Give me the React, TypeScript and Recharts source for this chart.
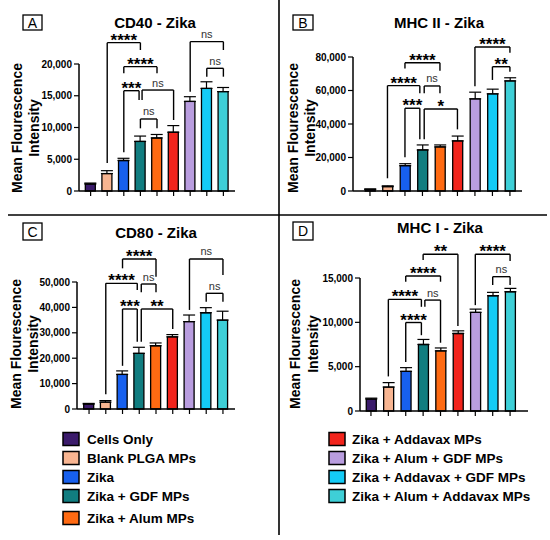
import React from 'react';
import { BarChart, Bar, XAxis, YAxis, Cell, ErrorBar, ReferenceLine } from 'recharts';

const categories = [
  'Cells Only',
  'Blank PLGA MPs',
  'Zika',
  'Zika + GDF MPs',
  'Zika + Alum MPs',
  'Zika + Addavax MPs',
  'Zika + Alum + GDF MPs',
  'Zika + Addavax + GDF MPs',
  'Zika + Alum + Addavax MPs',
];
const colors = ['#3b1b6b', '#f8b591', '#1760ee', '#117d80', '#ff6a12', '#f2241c', '#b99ddf', '#14cbf6', '#3ecfd7'];

const cd40Values = [1100, 2750, 4800, 7800, 8350, 9250, 14100, 16150, 15650];
const cd40Errors = [150, 450, 350, 850, 550, 1050, 750, 1050, 650];
const cd40Ticks = [0, 5000, 10000, 15000, 20000];
// [from, to, top, left leg end, right leg end, label]
const cd40Brackets: [number, number, number, number, number, string][] = [
  [1, 3, 23360, 4400, 22200, '****'],
  [2, 4, 19580, 18530, 18530, '****'],
  [2, 2.92, 15800, 6100, 14330, '***'],
  [3.1, 5, 15900, 14330, 11180, 'ns'],
  [3, 4, 11340, 9870, 9870, 'ns'],
  [6, 8, 23520, 15640, 22200, 'ns'],
  [7, 8, 19320, 18000, 18000, 'ns'],
];

const mhc2Values = [1000, 2600, 15100, 24500, 26300, 29900, 55000, 58000, 65700];
const mhc2Errors = [200, 500, 1200, 3000, 1200, 2900, 4000, 2800, 1900];
const mhc2Ticks = [0, 20000, 40000, 60000, 80000];
const mhc2Brackets: [number, number, number, number, number, string][] = [
  [2, 4, 76600, 73200, 71800, '****'],
  [1, 2.85, 62900, 7600, 58300, '****'],
  [3.1, 4, 62700, 58300, 58300, 'ns'],
  [2, 2.85, 49400, 20100, 30900, '***'],
  [3.1, 5, 49000, 30900, 36800, '*'],
  [6, 8, 86000, 62500, 82600, '****'],
  [7, 8, 74200, 66300, 71200, '**'],
];

const cd80Values = [1900, 2700, 13600, 21900, 24900, 28400, 34400, 37900, 35000];
const cd80Errors = [300, 600, 1400, 2400, 1100, 900, 2600, 2000, 3500];
const cd80Ticks = [0, 10000, 20000, 30000, 40000, 50000];
const cd80Brackets: [number, number, number, number, number, string][] = [
  [2, 4, 59060, 55380, 52100, '****'],
  [1, 2.88, 49470, 5800, 46850, '****'],
  [3.12, 4, 49210, 45930, 45930, 'ns'],
  [2, 2.88, 39370, 17000, 26500, '***'],
  [3.12, 5, 39370, 26500, 31500, '**'],
  [6, 8, 59060, 39000, 52750, 'ns'],
  [7, 8, 45540, 42250, 42250, 'ns'],
];

const mhc1Values = [1350, 2700, 4470, 7500, 6780, 8740, 11120, 13000, 13450];
const mhc1Errors = [100, 500, 420, 570, 330, 300, 370, 380, 380];
const mhc1Ticks = [0, 5000, 10000, 15000];
const mhc1Brackets: [number, number, number, number, number, string][] = [
  [3, 5, 17680, 17040, 9600, '**'],
  [2, 4, 15230, 14580, 14580, '****'],
  [1, 2.9, 12590, 3900, 11750, '****'],
  [3.1, 4, 12510, 11750, 7700, 'ns'],
  [2, 2.9, 9980, 5530, 8550, '****'],
  [6, 8, 17680, 11940, 16920, '****'],
  [7, 8, 15150, 14210, 14210, 'ns'],
];

const FONT = '"Liberation Sans", Arial, Helvetica, sans-serif';
const xTicks = categories.map((_, i) => i);

const makeLabel = (text: string) => (props: any) => {
  const vb = props.viewBox || {};
  const cx = (vb.x ?? 0) + (vb.width ?? 0) / 2;
  const star = text.includes('*');
  return (
    <text
      x={cx}
      y={(vb.y ?? 0) + (star ? 3 : -3.5)}
      textAnchor="middle"
      fontFamily={FONT}
      fontSize={star ? 17 : 11}
      fontWeight={star ? 700 : 400}
      fill={star ? '#000' : '#333'}
    >
      {text}
    </text>
  );
};

function renderBrackets(brackets: [number, number, number, number, number, string][]) {
  const out: any[] = [];
  brackets.forEach(([x1, x2, top, lb, rb, label], i) => {
    const common = { stroke: '#000', strokeWidth: 1.4, ifOverflow: 'visible' as const };
    out.push(
      <ReferenceLine key={`h${i}`} {...common} segment={[{ x: x1, y: top }, { x: x2, y: top }]} label={makeLabel(label)} />
    );
    out.push(<ReferenceLine key={`l${i}`} {...common} segment={[{ x: x1, y: lb }, { x: x1, y: top }]} />);
    out.push(<ReferenceLine key={`r${i}`} {...common} segment={[{ x: x2, y: rb }, { x: x2, y: top }]} />);
  });
  return out;
}

type Layout = {
  left: number;
  top: number;
  marginTop: number;
  marginRight: number;
  yAxisW: number;
  xAxisH: number;
  xDomain: [number, number];
};

function Panel({
  values,
  errors,
  ticks,
  brackets,
  layout,
}: {
  values: number[];
  errors: number[];
  ticks: number[];
  brackets: [number, number, number, number, number, string][];
  layout: Layout;
}) {
  const data = values.map((v, i) => ({ idx: i, name: categories[i], value: v, err: [0, errors[i]] }));
  return (
    <div style={{ position: 'absolute', left: layout.left, top: layout.top }}>
      <BarChart
        width={275}
        height={215}
        data={data}
        margin={{ top: layout.marginTop, right: layout.marginRight, bottom: 0, left: 0 }}
      >
        <XAxis
          type="number"
          dataKey="idx"
          domain={layout.xDomain}
          ticks={xTicks}
          interval={0}
          tickFormatter={() => ''}
          height={layout.xAxisH}
          axisLine={{ stroke: '#000', strokeWidth: 1.5 }}
          tickLine={{ stroke: '#000', strokeWidth: 1.2 }}
          tickSize={5}
          allowDataOverflow
        />
        <YAxis
          type="number"
          domain={[0, ticks[ticks.length - 1]]}
          ticks={ticks}
          interval={0}
          width={layout.yAxisW}
          axisLine={{ stroke: '#000', strokeWidth: 1.5 }}
          tickLine={{ stroke: '#000', strokeWidth: 1.2 }}
          tickSize={5}
          tick={{ fill: '#000', fontSize: 10, fontWeight: 700, fontFamily: FONT }}
          tickFormatter={(v: number) => v.toLocaleString('en-US')}
        />
        <Bar dataKey="value" barSize={10} stroke="#000" strokeWidth={1.3} isAnimationActive={false}>
          {data.map((d, i) => (
            <Cell key={d.name} fill={colors[i]} />
          ))}
          <ErrorBar dataKey="err" width={6} stroke="#000" strokeWidth={1.2} direction="y" />
        </Bar>
        {renderBrackets(brackets)}
      </BarChart>
    </div>
  );
}

const panels = [
  { letter: 'A', title: 'CD40 - Zika', values: cd40Values, errors: cd40Errors, ticks: cd40Ticks, brackets: cd40Brackets,
    layout: { left: 0, top: 0, marginTop: 64, marginRight: 40, yAxisW: 79, xAxisH: 24, xDomain: [-0.7, 8.7] as [number, number] },
    box: [23, 15, 19, 15], titleX: 155, titleY: 28, labX: [17, 33.5], labY: 128 },
  { letter: 'B', title: 'MHC II - Zika', values: mhc2Values, errors: mhc2Errors, ticks: mhc2Ticks, brackets: mhc2Brackets,
    layout: { left: 275, top: 0, marginTop: 57, marginRight: 28, yAxisW: 78, xAxisH: 24, xDomain: [-0.97, 8.69] as [number, number] },
    box: [293, 15, 20, 15], titleX: 439, titleY: 28, labX: [293, 310], labY: 128 },
  { letter: 'C', title: 'CD80 - Zika', values: cd80Values, errors: cd80Errors, ticks: cd80Ticks, brackets: cd80Brackets,
    layout: { left: 0, top: 215, marginTop: 67, marginRight: 40, yAxisW: 77, xAxisH: 21, xDomain: [-0.72, 8.72] as [number, number] },
    box: [23, 223, 19, 17], titleX: 156, titleY: 238, labX: [15.5, 33], labY: 344 },
  { letter: 'D', title: 'MHC I - Zika', values: mhc1Values, errors: mhc1Errors, ticks: mhc1Ticks, brackets: mhc1Brackets,
    layout: { left: 275, top: 215, marginTop: 63, marginRight: 22, yAxisW: 85, xAxisH: 19, xDomain: [-0.63, 9.03] as [number, number] },
    box: [293, 222, 20, 18], titleX: 440, titleY: 233, labX: [295, 313], labY: 344 },
];

const legendLeftY = [439, 458, 477, 496, 518];
const legendRightY = [439, 458, 477, 496];

export default function App() {
  return (
    <div style={{ position: 'absolute', left: 0, top: 0, width: 550, height: 540, background: '#fff', fontFamily: FONT }}>
      {panels.map((p) => (
        <Panel key={p.letter} values={p.values} errors={p.errors} ticks={p.ticks} brackets={p.brackets} layout={p.layout} />
      ))}
      <svg width={550} height={540} style={{ position: 'absolute', left: 0, top: 0, pointerEvents: 'none' }}>
        <line x1={8} y1={215} x2={547} y2={215} stroke="#000" strokeWidth={1.6} />
        <line x1={279} y1={0} x2={279} y2={535} stroke="#000" strokeWidth={1.6} />
        {panels.map((p) => (
          <g key={p.letter}>
            <rect x={p.box[0]} y={p.box[1]} width={p.box[2]} height={p.box[3]} fill="none" stroke="#000" strokeWidth={1.3} />
            <text
              x={p.box[0] + p.box[2] / 2}
              y={p.box[1] + p.box[3] / 2 + 5}
              textAnchor="middle"
              fontFamily={FONT}
              fontSize={14}
              fill="#000"
            >
              {p.letter}
            </text>
            <text x={p.titleX} y={p.titleY} textAnchor="middle" fontFamily={FONT} fontSize={15} fontWeight={700} fill="#000">
              {p.title}
            </text>
            <text
              transform={`translate(${p.labX[0]},${p.labY}) rotate(-90)`}
              textAnchor="middle"
              dominantBaseline="central"
              fontFamily={FONT}
              fontSize={14}
              fontWeight={700}
              fill="#000"
            >
              Mean Flourescence
            </text>
            <text
              transform={`translate(${p.labX[1]},${p.labY}) rotate(-90)`}
              textAnchor="middle"
              dominantBaseline="central"
              fontFamily={FONT}
              fontSize={14}
              fontWeight={700}
              fill="#000"
            >
              Intensity
            </text>
          </g>
        ))}
        {categories.map((c, i) => {
          const left = i < 5;
          const y = left ? legendLeftY[i] : legendRightY[i - 5];
          const sx = left ? 63 : 329;
          const tx = left ? 87 : 352;
          return (
            <g key={c}>
              <rect x={sx} y={y - 6.5} width={16} height={13} fill={colors[i]} stroke="#000" strokeWidth={1.5} />
              <text x={tx} y={y} dominantBaseline="central" fontFamily={FONT} fontSize={13.5} fontWeight={700} fill="#000">
                {c}
              </text>
            </g>
          );
        })}
      </svg>
    </div>
  );
}
